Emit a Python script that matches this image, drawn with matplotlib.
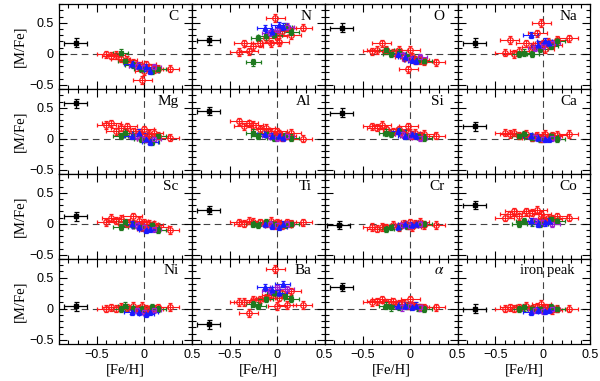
#!/usr/bin/env python3
# abundance ratios [M/Fe] vs [Fe/H], 4x4 panel grid

import numpy as np
import matplotlib
matplotlib.use('Agg')
import matplotlib.pyplot as plt
from matplotlib.ticker import MultipleLocator

elements = ['C', 'N', 'O', 'Na', 'Mg', 'Al', 'Si', 'Ca',
            'Sc', 'Ti', 'Cr', 'Co', 'Ni', 'Ba', r'$\alpha$', 'iron peak']

# [Fe/H] of each group of stars
red_feh = [-0.40, -0.35, -0.30, -0.25, -0.18, -0.12, -0.06, -0.02, 0.0, 0.02, 0.05, 0.10, 0.15, 0.27]
green_feh = [-0.25, -0.20, -0.12, -0.03, 0.08, 0.15]
blue_feh = [-0.13, -0.05, 0.02, 0.06]
purple_feh = [-0.08, 0.0, 0.10]

# [M/Fe] per element, in the order of `elements`
red_mfe = [
    [-0.01, -0.03, -0.02, -0.08, -0.10, -0.14, -0.20, -0.42, -0.28, -0.17, -0.22, -0.25, -0.24, -0.24],
    [0.03, 0.17, 0.04, 0.12, 0.17, 0.25, 0.17, 0.58, 0.28, 0.19, 0.36, 0.42, 0.30, 0.42],
    [0.04, 0.06, 0.17, 0.06, 0.02, 0.06, -0.05, -0.25, 0.06, -0.05, -0.10, -0.10, -0.12, -0.14],
    [0.02, 0.22, 0.00, 0.05, 0.17, 0.11, 0.33, 0.50, 0.17, 0.08, 0.19, 0.15, 0.22, 0.25],
    [0.22, 0.25, 0.12, 0.18, 0.20, 0.12, 0.10, 0.05, 0.15, 0.00, 0.08, 0.10, 0.05, 0.02],
    [0.28, 0.20, 0.25, 0.22, 0.15, 0.18, 0.10, 0.05, 0.12, 0.08, 0.02, 0.05, 0.10, 0.00],
    [0.20, 0.18, 0.22, 0.15, 0.12, 0.15, 0.08, 0.20, 0.10, 0.05, 0.10, 0.05, 0.08, 0.05],
    [0.10, 0.08, 0.10, 0.05, 0.08, 0.02, 0.05, 0.00, 0.05, 0.08, 0.02, 0.05, 0.06, 0.08],
    [0.02, 0.10, 0.05, 0.08, 0.00, 0.12, 0.05, -0.05, 0.02, -0.08, 0.00, -0.02, -0.05, -0.10],
    [0.02, 0.00, 0.05, 0.03, 0.02, 0.00, 0.05, -0.02, 0.02, 0.00, -0.03, 0.02, 0.00, 0.02],
    [-0.05, -0.08, -0.05, -0.06, -0.02, -0.05, 0.00, -0.03, 0.02, -0.05, 0.00, 0.03, -0.02, -0.02],
    [0.10, 0.15, 0.20, 0.12, 0.20, 0.18, 0.22, 0.15, 0.08, 0.05, 0.10, 0.08, 0.12, 0.10],
    [0.00, 0.02, 0.00, 0.03, 0.02, 0.05, 0.00, 0.05, -0.03, 0.00, -0.02, 0.00, 0.02, 0.03],
    [0.11, 0.11, -0.07, 0.14, 0.15, 0.18, 0.22, 0.64, 0.04, 0.18, 0.25, 0.06, 0.28, 0.06],
    [0.10, 0.12, 0.15, 0.10, 0.12, 0.08, 0.08, 0.05, 0.15, 0.05, 0.05, 0.02, 0.02, 0.02],
    [0.00, 0.02, 0.00, 0.02, 0.05, 0.00, 0.03, 0.08, 0.00, 0.02, 0.00, -0.02, 0.00, 0.00],
]
green_mfe = [
    [0.02, -0.11, -0.18, -0.25, -0.28, -0.25],
    [-0.14, 0.25, 0.28, 0.30, 0.44, 0.35],
    [0.06, 0.00, 0.02, -0.05, -0.10, -0.12],
    [0.00, 0.02, 0.00, 0.08, 0.12, 0.20],
    [0.05, 0.10, 0.05, 0.00, -0.05, 0.05],
    [0.10, 0.05, 0.08, 0.02, 0.05, 0.02],
    [0.10, 0.08, 0.12, 0.05, 0.05, 0.02],
    [0.05, 0.08, 0.02, 0.00, 0.05, 0.00],
    [-0.05, 0.02, -0.02, -0.05, -0.02, -0.10],
    [0.00, -0.02, 0.02, 0.00, -0.02, 0.00],
    [-0.08, -0.05, -0.05, -0.03, 0.00, 0.00],
    [0.00, 0.05, 0.02, 0.00, 0.08, 0.05],
    [0.00, 0.05, 0.00, 0.00, 0.02, 0.00],
    [0.08, 0.05, 0.15, 0.25, 0.20, 0.15],
    [0.05, 0.02, 0.03, 0.05, 0.02, 0.00],
    [0.00, 0.02, 0.00, 0.00, 0.02, 0.00],
]
blue_mfe = [
    [-0.16, -0.20, -0.22, -0.28],
    [0.42, 0.35, 0.47, 0.44],
    [0.00, -0.05, -0.10, -0.12],
    [0.30, 0.15, 0.20, 0.17],
    [0.05, 0.10, 0.00, -0.05],
    [0.08, 0.05, 0.05, 0.02],
    [0.12, 0.05, 0.08, 0.05],
    [0.05, 0.02, 0.00, 0.00],
    [0.00, -0.05, -0.10, -0.08],
    [0.00, -0.03, -0.05, 0.00],
    [-0.05, 0.00, -0.02, 0.00],
    [0.05, 0.00, 0.02, 0.05],
    [-0.05, -0.05, -0.08, -0.05],
    [0.35, 0.30, 0.25, 0.40],
    [0.05, 0.05, 0.03, 0.05],
    [-0.05, -0.02, -0.03, -0.02],
]
purple_mfe = [
    [-0.19, -0.22, -0.22],
    [0.33, 0.38, 0.44],
    [-0.02, -0.08, -0.05],
    [0.10, 0.12, 0.18],
    [0.05, 0.00, 0.00],
    [0.05, 0.02, 0.05],
    [0.08, 0.05, 0.02],
    [0.03, 0.00, 0.02],
    [-0.02, -0.05, -0.08],
    [0.00, -0.02, 0.00],
    [-0.02, -0.03, 0.00],
    [0.05, 0.02, 0.00],
    [-0.02, -0.05, -0.02],
    [0.28, 0.35, 0.32],
    [0.02, 0.05, 0.02],
    [-0.02, -0.03, 0.00],
]

# representative error bar drawn in each panel
ref_feh = [-0.72, -0.72, -0.72, -0.72, -0.72, -0.72, -0.72, -0.72,
           -0.72, -0.72, -0.75, -0.72, -0.72, -0.72, -0.72, -0.72]
ref_mfe = [0.18, 0.22, 0.42, 0.18, 0.57, 0.45, 0.42, 0.20,
           0.12, 0.22, -0.02, 0.30, 0.04, -0.25, 0.35, 0.00]

serif = 'Liberation Serif'
plt.rcParams['font.family'] = 'Liberation Sans'
plt.rcParams['mathtext.fontset'] = 'stix'

fig, axes = plt.subplots(4, 4, figsize=(6.0, 3.81), dpi=100, sharex=True, sharey=True)
fig.subplots_adjust(left=0.098, right=0.984, top=0.989, bottom=0.097, wspace=0, hspace=0)

groups = [
    (red_feh, red_mfe, '#ff1a1a', 'o', 'none', 4.0, 0.10, 0.06),
    (green_feh, green_mfe, '#1f7a1f', 's', '#1f7a1f', 3.0, 0.08, 0.05),
    (purple_feh, purple_mfe, '#a020d0', 's', 'none', 3.0, 0.08, 0.05),
    (blue_feh, blue_mfe, '#1a1aff', '^', '#1a1aff', 3.5, 0.08, 0.05),
]

for k, ax in enumerate(axes.flat):
    ax.axhline(0, color='#444444', ls=(0, (6, 4)), lw=0.8, zorder=1)
    ax.axvline(0, color='#444444', ls=(0, (6, 4)), lw=0.8, zorder=1)
    for feh, mfe, col, mk, fc, ms, xe, ye in groups:
        ax.errorbar(feh, mfe[k], xerr=xe, yerr=ye, fmt=mk, color=col, mfc=fc, mec=col,
                    ms=ms, mew=0.9, elinewidth=0.8, capsize=1.5, capthick=0.8, zorder=3)
    ax.errorbar([ref_feh[k]], [ref_mfe[k]], xerr=0.12, yerr=0.07, fmt='s', color='black',
                ms=2.5, elinewidth=0.9, capsize=1.8, capthick=0.9, zorder=3)

    if elements[k] == 'iron peak':
        ax.text(0.88, 0.86, elements[k], transform=ax.transAxes, ha='right', va='center',
                fontsize=10.5, family=serif)
    else:
        ax.text(0.90, 0.86, elements[k], transform=ax.transAxes, ha='right', va='center',
                fontsize=11, family=serif)

    ax.set_xlim(-0.9, 0.5)
    ax.set_ylim(-0.57, 0.8)
    ax.xaxis.set_major_locator(MultipleLocator(0.5))
    ax.xaxis.set_minor_locator(MultipleLocator(0.1))
    ax.yaxis.set_major_locator(MultipleLocator(0.5))
    ax.yaxis.set_minor_locator(MultipleLocator(0.1))
    ax.tick_params(which='both', direction='in', top=True, right=True, labelsize=9, width=0.8)
    ax.tick_params(which='major', length=6)
    ax.tick_params(which='minor', length=3)
    for sp in ax.spines.values():
        sp.set_linewidth(0.9)

for ax in axes[:, 0]:
    ax.set_ylabel('[M/Fe]', family=serif, fontsize=10.5, labelpad=2)
for ax in axes[-1, :]:
    ax.set_xlabel('[Fe/H]', family=serif, fontsize=10.5, labelpad=2)

fmt = lambda v, pos: '0' if abs(v) < 1e-9 else f'{v:g}'.replace('-', '\u2212')
axes[0, 0].xaxis.set_major_formatter(fmt)
axes[0, 0].yaxis.set_major_formatter(fmt)

fig.savefig('out.png', dpi=100)
